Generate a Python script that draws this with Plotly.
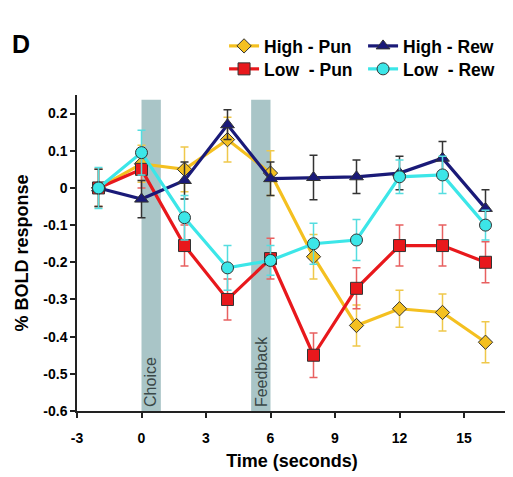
import plotly.graph_objects as go

time_s = [-2, 0, 2, 4, 6, 8, 10, 12, 14, 16]

high_pun = [0.0, 0.065, 0.05, 0.13, 0.04, -0.185, -0.37, -0.325, -0.335, -0.415]
high_pun_err = [0.05, 0.05, 0.06, 0.06, 0.06, 0.06, 0.055, 0.05, 0.05, 0.055]

low_pun = [0.0, 0.05, -0.155, -0.30, -0.19, -0.45, -0.27, -0.155, -0.155, -0.20]
low_pun_err = [0.05, 0.05, 0.055, 0.055, 0.055, 0.06, 0.055, 0.055, 0.055, 0.055]

high_rew = [0.0, -0.03, 0.02, 0.17, 0.025, 0.028, 0.03, 0.04, 0.08, -0.055]
high_rew_err = [0.05, 0.05, 0.05, 0.04, 0.045, 0.06, 0.045, 0.045, 0.045, 0.05]

low_rew = [0.0, 0.095, -0.08, -0.215, -0.195, -0.15, -0.14, 0.03, 0.035, -0.10]
low_rew_err = [0.055, 0.06, 0.06, 0.06, 0.04, 0.055, 0.055, 0.045, 0.05, 0.04]

x_tick_vals = [-3, 0, 3, 6, 9, 12, 15]
x_tick_text = ["-3", "0", "3", "6", "9", "12", "15"]
y_tick_vals = [0.2, 0.1, 0, -0.1, -0.2, -0.3, -0.4, -0.5, -0.6]
y_tick_text = ["0.2", "0.1", "0", "-0.1", "-0.2", "-0.3", "-0.4", "-0.5", "-0.6"]

bands = [("Choice", 0.0, 0.9), ("Feedback", 5.1, 6.0)]

FONT = "Liberation Sans, Arial, sans-serif"
OUTLINE = "#333333"

series = [
    # name, y, err, line color, err color, symbol, size, legend, rank
    ("High - Pun", high_pun, high_pun_err, "#F4C020", "#EFC84A", "diamond", 11, "legend", 1),
    ("Low  - Pun", low_pun, low_pun_err, "#E8181C", "#E86060", "square", 12, "legend2", 1),
    ("High - Rew", high_rew, high_rew_err, "#1A1A78", "#333333", "triangle-up", 12, "legend", 2),
    ("Low  - Rew", low_rew, low_rew_err, "#3CE6E8", "#55DDE0", "circle", 12, "legend2", 2),
]

fig = go.Figure()
for name, y, err, col, ecol, sym, size, leg, rank in series:
    fig.add_trace(go.Scatter(
        x=time_s, y=y, name=name, mode="lines+markers",
        line=dict(color=col, width=3.2),
        marker=dict(symbol=sym, size=size, color=col,
                    line=dict(color=OUTLINE, width=1)),
        error_y=dict(type="data", array=err, visible=True,
                     color=ecol, thickness=1.5, width=4),
        legend=leg, legendrank=rank,
    ))

shapes = []
annotations = []
for label, x0, x1 in bands:
    shapes.append(dict(type="rect", xref="x", yref="y", x0=x0, x1=x1,
                       y0=-0.6, y1=0.237, fillcolor="#A9C5C7",
                       line=dict(width=0), layer="below"))
    annotations.append(dict(xref="x", yref="y", x=(x0 + x1) / 2, y=-0.594,
                            text=label, textangle=-90, showarrow=False,
                            xanchor="center", yanchor="bottom",
                            font=dict(family=FONT, size=16, color="#3A4848",
                                      weight="normal")))

annotations.append(dict(xref="paper", yref="paper", x=-0.155, y=1.16,
                        text="D", showarrow=False, xanchor="left",
                        yanchor="middle",
                        font=dict(family=FONT, size=25, color="black",
                                  weight="bold")))

legend_common = dict(orientation="h", xanchor="left", yanchor="middle",
                     bgcolor="rgba(0,0,0,0)", entrywidth=94,
                     font=dict(family=FONT, size=17.5, color="black",
                               weight="bold"),
                     itemclick=False)

fig.update_layout(
    width=513, height=477,
    margin=dict(l=69, r=14, t=87, b=74),
    paper_bgcolor="white", plot_bgcolor="white",
    font=dict(family=FONT, color="black", weight="bold"),
    showlegend=True,
    legend=dict(x=0.342, y=1.155, **legend_common),
    legend2=dict(x=0.342, y=1.0823, **legend_common),
    shapes=shapes, annotations=annotations,
    xaxis=dict(range=[-3, 17], tickvals=x_tick_vals, ticktext=x_tick_text,
               showgrid=False, zeroline=False, showline=True,
               linecolor="#222", linewidth=1.5, ticks="outside",
               ticklen=5, tickwidth=1.5, tickcolor="#222",
               tickfont=dict(family=FONT, size=14, weight="bold"),
               ticklabelstandoff=8,
               title=dict(text="Time (seconds)", standoff=10,
                          font=dict(family=FONT, size=18, weight="bold"))),
    yaxis=dict(range=[-0.6, 0.25], tickvals=y_tick_vals, ticktext=y_tick_text,
               showgrid=False, zeroline=False, showline=True,
               linecolor="#222", linewidth=1.5, ticks="outside",
               ticklen=5, tickwidth=1.5, tickcolor="#222",
               tickfont=dict(family=FONT, size=14, weight="bold"),
               title=dict(text="% BOLD response", standoff=10,
                          font=dict(family=FONT, size=18, weight="bold"))),
)

fig.write_html("out.html")
